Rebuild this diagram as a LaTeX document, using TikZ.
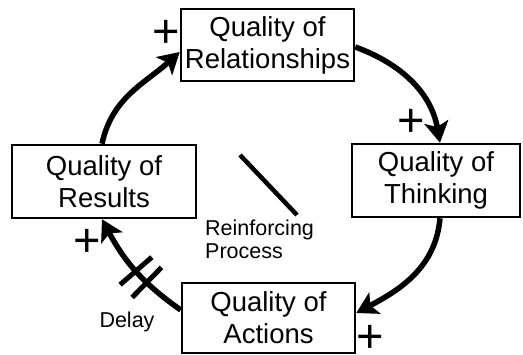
\documentclass[tikz,border=0pt]{standalone}
\usepackage{fontspec}
\setmainfont{Liberation Sans}
\usetikzlibrary{arrows.meta,decorations.markings}
\tikzset{
  qbox/.style={draw, line width=2.5pt, inner sep=0pt, align=center,
    font=\fontsize{27.5}{32}\selectfont},
  loop/.style={line width=5.5pt, -{Stealth[length=21pt,width=24pt,inset=5pt]}},
  plus/.style={inner sep=0pt, font=\fontsize{47}{47}\selectfont},
  small/.style={inner sep=0pt, font=\fontsize{21.5}{23}\selectfont},
  delaymarks/.style={postaction={decorate, decoration={markings,
    mark=at position 0.36 with {\draw[-, line width=5pt] (0,-21pt) -- (0,21pt);},
    mark=at position 0.49 with {\draw[-, line width=5pt] (0,-21pt) -- (0,21pt);}}}}
}
\begin{document}
\begin{tikzpicture}[x=1pt,y=1pt]
\useasboundingbox (0,0) rectangle (523,355);
\node[qbox, minimum width=173pt, minimum height=72pt] (rel) at (267.5,310) {Quality of\\Relationships};
\node[qbox, minimum width=168pt, minimum height=73pt] (th) at (436,174.5) {Quality of\\Thinking};
\node[qbox, minimum width=173pt, minimum height=70pt] (act) at (268.5,37) {Quality of\\Actions};
\node[qbox, minimum width=184pt, minimum height=73pt] (res) at (104,173.5) {Quality of\\Results};

\draw[loop] ([xshift=-2pt]res.north) to[out=78, in=-138] ([yshift=-7pt]rel.west);
\draw[loop] ([yshift=-2pt]rel.east) to[out=-20, in=100] ([xshift=4pt]th.north);
\draw[loop] ([xshift=4pt]th.south) to[out=-95, in=28] ([yshift=5pt]act.east);
\draw[loop, delaymarks] ([yshift=8pt]act.west) to[out=145, in=-62] ([xshift=-2pt]res.south);

\node[plus] (p1) at (166,321) {+};
\node[plus] (p2) at (411,232) {+};
\node[plus] (p3) at (370,16) {+};
\node[plus] (p4) at (87,112) {+};

\coordinate (s1) at (240,200);
\coordinate (s2) at (297,140);
\draw[line width=4.5pt] (s1) -- (s2);
\node[small, anchor=north west, align=left] (rp) at (205,135) {Reinforcing\\Process};
\node[small, anchor=base] (delay) at (127,27) {Delay};
\end{tikzpicture}
\end{document}
